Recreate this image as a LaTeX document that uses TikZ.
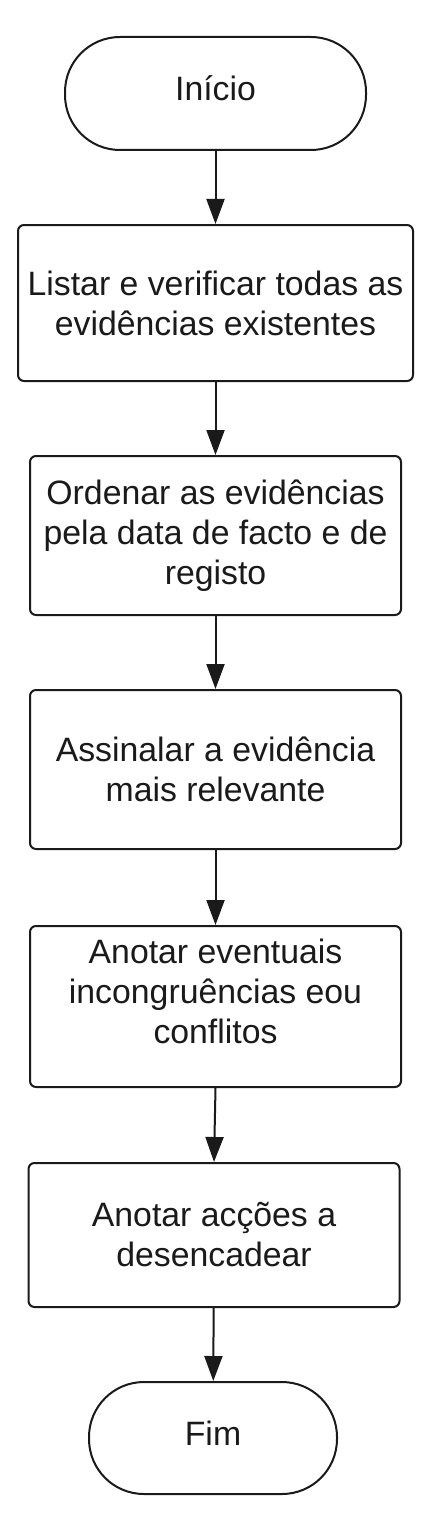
\documentclass[tikz,border=0pt]{standalone}
\usepackage{fontspec}
\setmainfont{Liberation Sans}
\usetikzlibrary{arrows.meta}
\definecolor{ink}{HTML}{1A1A1A}
\begin{document}
\begin{tikzpicture}[x=1pt,y=-1pt,
  every node/.style={font=\fontsize{33.8}{40}\selectfont, text=ink},
  procbox/.style={draw=ink, line width=2pt, rectangle, rounded corners=6pt, align=center, inner sep=0pt},
  termbox/.style={draw=ink, line width=2pt, rectangle, rounded corners=55pt, align=center, inner sep=0pt},
  flow/.style={draw=ink, line width=2pt, -{Triangle[width=18pt,length=25pt]}}]
\useasboundingbox[fill=white] (0,0) rectangle (430,1517);
\node[termbox, minimum width=301pt, minimum height=113pt] (start) at (215.5,93.5) {};
\node[inner sep=0pt] (ts) at (215.5,88) {Início};
\node[procbox, minimum width=395pt, minimum height=156pt] (b1) at (215.5,303) {Listar e verificar todas as\\evidências existentes};
\node[procbox, minimum width=371pt, minimum height=159pt] (b2) at (215.5,535.5) {Ordenar as evidências\\pela data de facto e de\\registo};
\node[procbox, minimum width=371pt, minimum height=159pt] (b3) at (215.5,769.5) {Assinalar a evidência\\mais relevante};
\node[procbox, minimum width=371pt, minimum height=161pt] (b4) at (215.5,1006.5) {};
\node[align=center, inner sep=0pt] (t4) at (215.5,991) {Anotar eventuais\\incongruências eou\\conflitos};
\node[procbox, minimum width=371pt, minimum height=144pt] (b5) at (214,1235) {Anotar acções a\\desencadear};
\node[termbox, minimum width=248pt, minimum height=112pt] (end) at (213,1438) {};
\node[inner sep=0pt] (te) at (213,1433) {Fim};
\draw[flow] (start) -- (b1);
\draw[flow] (b1) -- (b2);
\draw[flow] (b2) -- (b3);
\draw[flow] (b3) -- (b4);
\draw[flow] (b4.south) -- (b5.north);
\draw[flow] (b5) -- (end);
\end{tikzpicture}
\end{document}
